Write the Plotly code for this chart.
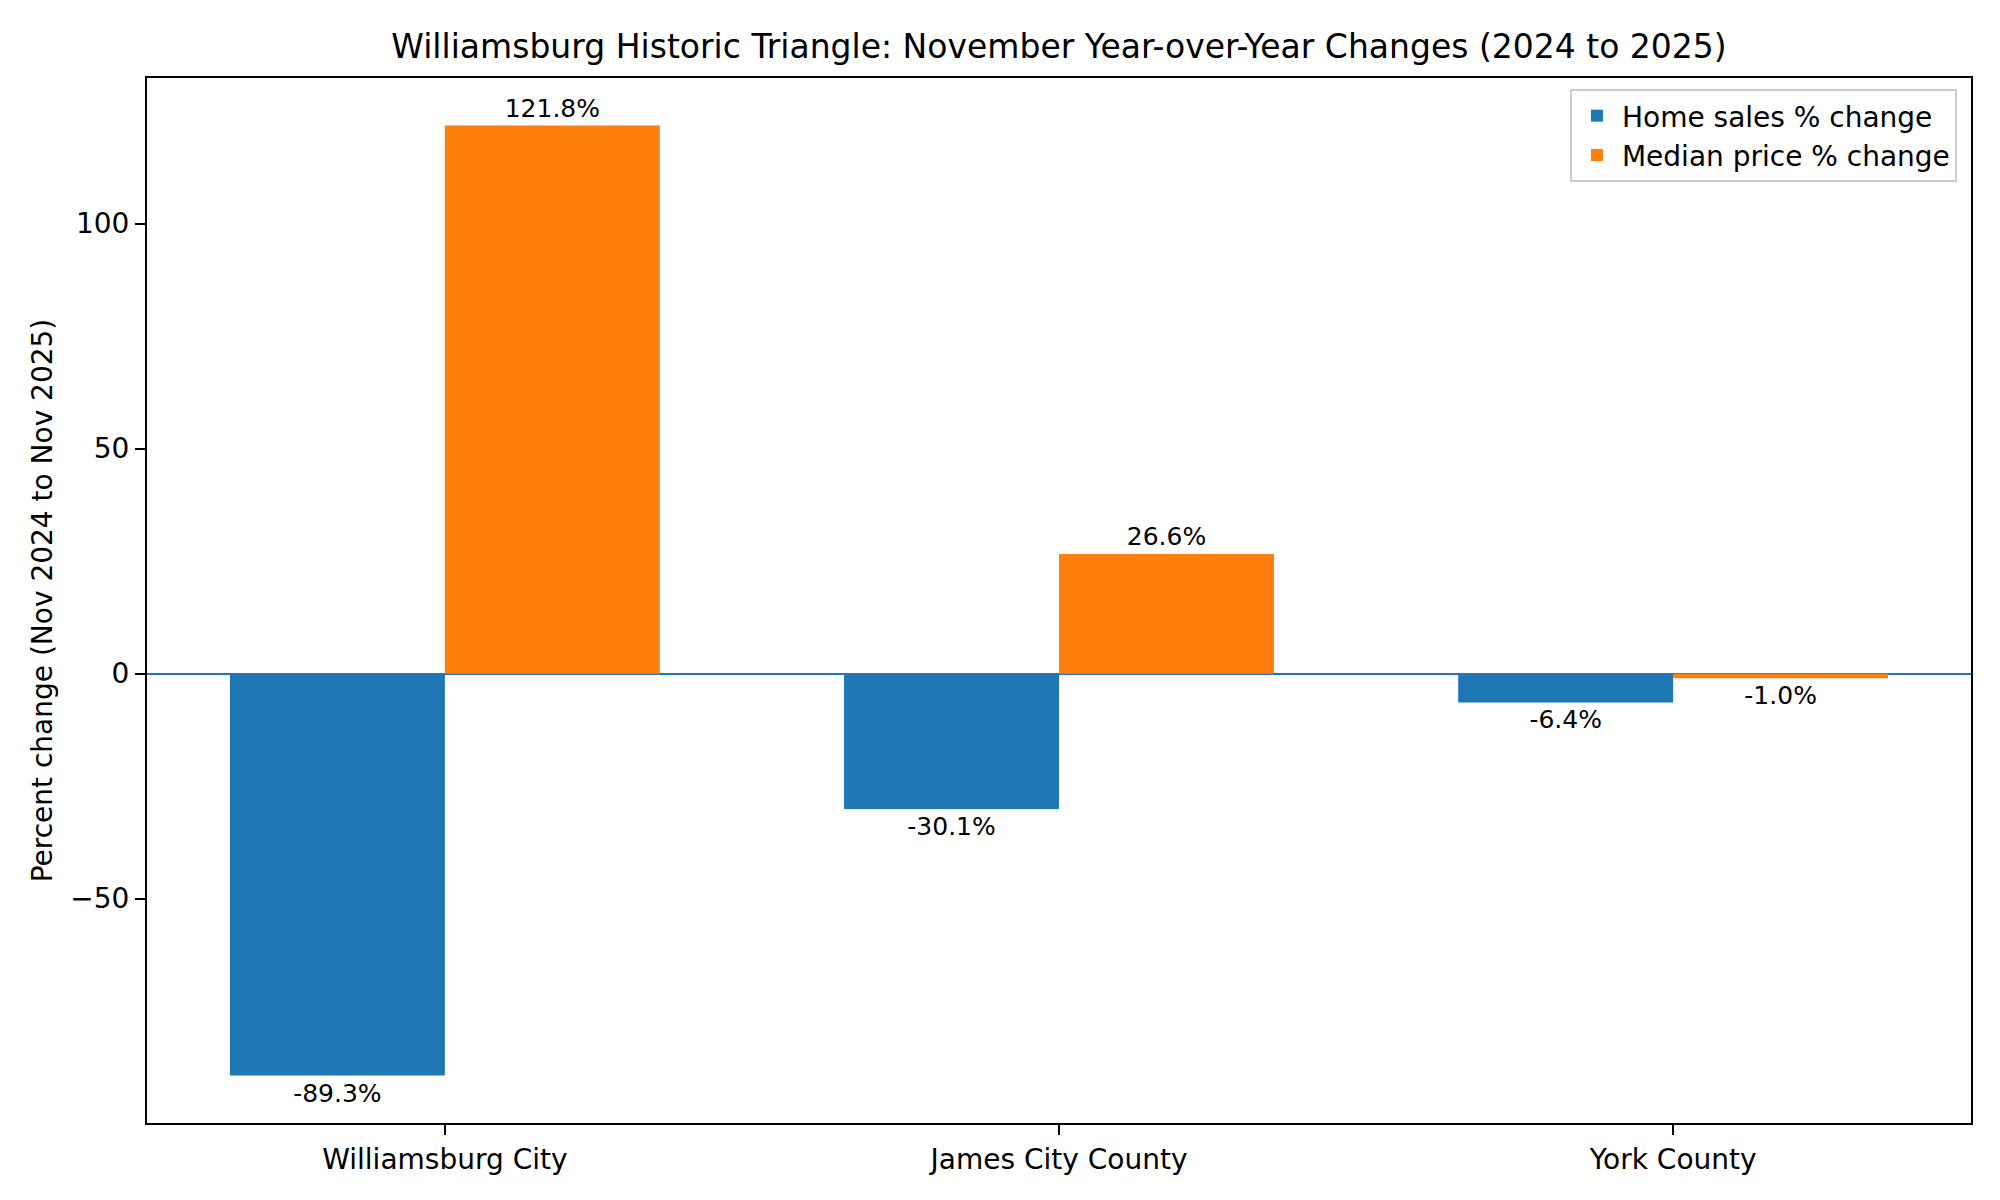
import plotly.graph_objects as go

categories = ["Williamsburg City", "James City County", "York County"]
home_sales_pct = [-89.3, -30.1, -6.4]
median_price_pct = [121.8, 26.6, -1.0]
series_names = ["Home sales % change", "Median price % change"]
title_text = "Williamsburg Historic Triangle: November Year-over-Year Changes (2024 to 2025)"
y_title = "Percent change (Nov 2024 to Nov 2025)"

FONT = "DejaVu Sans"
BLUE = "#1f77b4"
ORANGE = "#ff7f0e"

fig = go.Figure()
for name, vals, color in [(series_names[0], home_sales_pct, BLUE),
                          (series_names[1], median_price_pct, ORANGE)]:
    fig.add_trace(go.Bar(
        x=categories, y=vals, name=name,
        marker=dict(color=color, line=dict(width=0)),
        text=[f"{v:.1f}%" for v in vals],
        textposition="outside",
        textfont=dict(family=FONT, size=25, color="black"),
        constraintext="none",
        cliponaxis=False,
    ))

allv = home_sales_pct + median_price_pct
lo, hi = min(allv), max(allv)
pad = (hi - lo) * 0.05

# page body has an 8px margin; compensate so the plot area lands where it should
fig.update_layout(
    width=2000, height=1200,
    barmode="group", bargap=0.3, bargroupgap=0,
    plot_bgcolor="white", paper_bgcolor="white",
    font=dict(family=FONT, size=28, color="black"),
    margin=dict(l=139, r=37, t=70, b=85, autoexpand=False),
    title=dict(text=title_text, x=(139 + (2000 - 37 - 139) / 2) / 2000, xanchor="center",
               y=1 - 38 / 1200, yanchor="middle",
               font=dict(family=FONT, size=33, color="black")),
    legend=dict(x=0.9923, y=0.9895, xanchor="right", yanchor="top",
                bgcolor="rgba(255,255,255,0.8)", bordercolor="#cccccc", borderwidth=2,
                font=dict(family=FONT, size=28, color="black"),
                itemwidth=40, tracegroupgap=0),
    showlegend=True,
)
fig.update_xaxes(
    range=[-0.485, 2.485],
    showline=True, mirror=True, linecolor="black", linewidth=2,
    ticks="outside", ticklen=10, tickwidth=2, tickcolor="black",
    showgrid=False, zeroline=False,
    tickfont=dict(family=FONT, size=28, color="black"),
)
fig.update_yaxes(
    range=[lo - pad, hi + pad], dtick=50, tick0=0,
    showline=True, mirror=True, linecolor="black", linewidth=2,
    ticks="outside", ticklen=10, tickwidth=2, tickcolor="black",
    showgrid=False,
    zeroline=True, zerolinecolor=BLUE, zerolinewidth=2, layer="above traces",
    tickfont=dict(family=FONT, size=28, color="black"),
    title=dict(text=y_title, font=dict(family=FONT, size=28, color="black"), standoff=10),
)

fig.write_html("out.html")
